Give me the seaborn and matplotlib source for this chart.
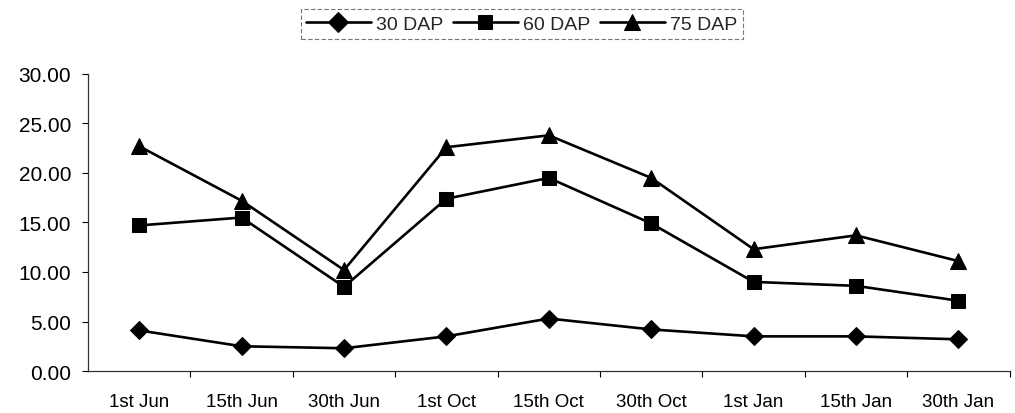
import matplotlib
matplotlib.use("Agg")
import matplotlib.pyplot as plt
import seaborn as sns
import pandas as pd
from matplotlib.ticker import FixedLocator, FormatStrFormatter

dates = ["1st Jun", "15th Jun", "30th Jun", "1st Oct", "15th Oct",
         "30th Oct", "1st Jan", "15th Jan", "30th Jan"]
dap30 = [4.1, 2.5, 2.3, 3.5, 5.3, 4.2, 3.5, 3.5, 3.2]
dap60 = [14.7, 15.5, 8.5, 17.4, 19.5, 14.9, 9.0, 8.6, 7.1]
dap75 = [22.7, 17.2, 10.2, 22.6, 23.8, 19.5, 12.3, 13.7, 11.1]
series_names = ["30 DAP", "60 DAP", "75 DAP"]

rows = []
for name, vals in zip(series_names, [dap30, dap60, dap75]):
    for d, v in zip(dates, vals):
        rows.append({"date": d, "value": v, "series": name})
df = pd.DataFrame(rows)

sns.set_theme(style="white")
plt.rcParams["font.family"] = ["Liberation Sans", "DejaVu Sans"]

fig = plt.figure(figsize=(10.15, 4.14), dpi=100)
ax = fig.add_axes([0.0867, 0.1014, 0.908, 0.7176])

sns.lineplot(data=df, x="date", y="value", hue="series", style="series",
             markers={"30 DAP": "D", "60 DAP": "s", "75 DAP": "^"},
             dashes=False, palette=["black"] * 3, linewidth=1.9,
             markersize=9, markeredgecolor="black", ax=ax, legend=True,
             sort=False)

sizes = {"30 DAP": 9, "60 DAP": 9.5, "75 DAP": 11}
for line, name in zip(ax.lines, series_names):
    line.set_markersize(sizes[name])

ax.set_xlim(-0.5, 8.5)
ax.set_ylim(0, 30)
ax.set_yticks([0, 5, 10, 15, 20, 25, 30])
ax.yaxis.set_major_formatter(FormatStrFormatter("%.2f"))
ax.set_xlabel("")
ax.set_ylabel("")

ax.xaxis.set_minor_locator(FixedLocator([i + 0.5 for i in range(9)]))
ax.tick_params(axis="x", which="major", length=0, labelsize=13.5, pad=16,
               colors="black")
ax.tick_params(axis="x", which="minor", length=4, width=0.8, color="black",
               direction="out", bottom=True)
ax.tick_params(axis="y", which="major", length=4, width=0.8, color="black",
               direction="out", left=True, labelsize=15, pad=8,
               labelcolor="black")

for s in ["top", "right"]:
    ax.spines[s].set_visible(False)
for s in ["left", "bottom"]:
    ax.spines[s].set_color("#333333")
    ax.spines[s].set_linewidth(0.9)

handles, labels = ax.get_legend_handles_labels()
for h, name in zip(handles, labels):
    h.set_markersize(sizes.get(name, 9) + 1)
ax.get_legend().remove()
leg = fig.legend(handles, labels, loc="center", ncol=3,
                 bbox_to_anchor=(522 / 1015, 1 - 25 / 414),
                 fontsize=14, frameon=True, fancybox=False,
                 handlelength=3.3, columnspacing=0.5, handletextpad=0.3,
                 borderpad=0.3, edgecolor="#555555")
leg.get_frame().set_linewidth(0.8)
leg.get_frame().set_linestyle((0, (4, 2)))

fig.savefig("out.png", dpi=100, facecolor="white")
